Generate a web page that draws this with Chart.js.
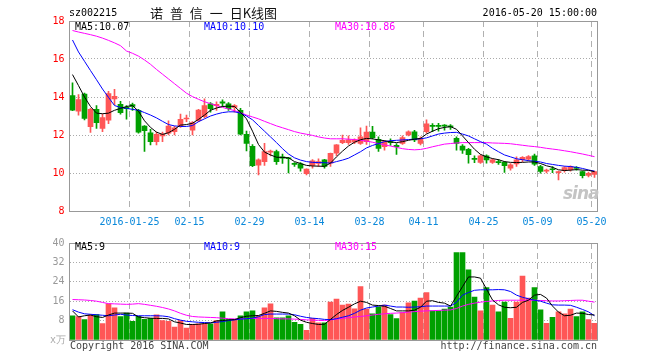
<!DOCTYPE html>
<html>
<head>
<meta charset="utf-8">
<script src="https://cdn.jsdelivr.net/npm/chart.js@4.4.1/dist/chart.umd.min.js"></script>
<style>
  body { margin: 0; background: #fff; }
  #wrap { position: relative; width: 660px; height: 360px; overflow: hidden;
          font-family: "DejaVu Sans Mono", monospace; font-size: 10px; line-height: 12px; }
  #wrap canvas { position: absolute; left: 0; }
  .t { position: absolute; white-space: pre; }
</style>
</head>
<body>
<div id="wrap">
  <canvas id="priceChart" width="660" height="232" style="top:0"></canvas>
  <canvas id="volChart" width="660" height="128" style="top:232px"></canvas>

  <div class="t" style="left:69px;top:7px;color:#000">sz002215</div>
  <div class="t" style="left:150px;top:5px;font-family:'Noto Sans CJK SC';font-size:13px;line-height:15px;word-spacing:4px;color:#111">诺 普 信 一 日K线图</div>
  <div class="t" style="right:63px;top:7px;color:#000">2016-05-20 15:00:00</div>

  <div class="t" style="left:75px;top:21px;color:#000">MA5:10.07</div>
  <div class="t" style="left:204px;top:21px;color:#0000ff">MA10:10.10</div>
  <div class="t" style="left:335px;top:21px;color:#ff00ff">MA30:10.86</div>

  <div class="t" style="left:75px;top:241px;color:#000">MA5:9</div>
  <div class="t" style="left:204px;top:241px;color:#0000ff">MA10:9</div>
  <div class="t" style="left:335px;top:241px;color:#ff00ff">MA30:15</div>

  <div class="t" style="left:50px;top:334px;color:#aaa">x万</div>
  <div class="t" style="left:70px;top:340px;color:#444">Copyright 2016 SINA.COM</div>
  <div class="t" style="right:63px;top:340px;color:#444">http://finance.sina.com.cn</div>
  <div class="t" style="left:563px;top:183px;font-family:'DejaVu Sans';font-size:17px;line-height:20px;font-weight:bold;font-style:italic;color:#c4c4c4;letter-spacing:-1px">sina</div>
</div>

<script>
// 交易日
const dates = [
  '2016-01-11','2016-01-12','2016-01-13','2016-01-14','2016-01-15','2016-01-18','2016-01-19','2016-01-20','2016-01-21','2016-01-22',
  '2016-01-25','2016-01-26','2016-01-27','2016-01-28','2016-01-29','2016-02-01','2016-02-02','2016-02-03','2016-02-04','2016-02-05',
  '2016-02-15','2016-02-16','2016-02-17','2016-02-18','2016-02-19','2016-02-22','2016-02-23','2016-02-24','2016-02-25','2016-02-26',
  '2016-02-29','2016-03-01','2016-03-02','2016-03-03','2016-03-04','2016-03-07','2016-03-08','2016-03-09','2016-03-10','2016-03-11',
  '2016-03-14','2016-03-15','2016-03-16','2016-03-17','2016-03-18','2016-03-21','2016-03-22','2016-03-23','2016-03-24','2016-03-25',
  '2016-03-28','2016-03-29','2016-03-30','2016-03-31','2016-04-01','2016-04-05','2016-04-06','2016-04-07','2016-04-08',
  '2016-04-11','2016-04-12','2016-04-13','2016-04-14','2016-04-15','2016-04-18','2016-04-19','2016-04-20','2016-04-21','2016-04-22',
  '2016-04-25','2016-04-26','2016-04-27','2016-04-28','2016-04-29','2016-05-03','2016-05-04','2016-05-05','2016-05-06',
  '2016-05-09','2016-05-10','2016-05-11','2016-05-12','2016-05-13','2016-05-16','2016-05-17','2016-05-18','2016-05-19','2016-05-20'
];

// K线 開高低收
const opens = [
  14.07,13.25,14.16,12.44,13.35,12.35,12.78,13.90,13.62,13.45,
  13.60,13.30,12.47,12.12,11.65,11.95,12.09,12.17,12.44,12.84,
  12.26,12.75,12.96,13.64,13.55,13.75,13.64,13.45,13.30,12.03,
  11.40,10.41,10.60,11.10,11.13,10.85,10.80,10.50,10.48,9.97,
  10.40,10.50,10.69,10.52,11.04,11.60,11.60,11.62,11.56,11.65,
  12.16,11.77,11.39,11.65,11.45,11.56,12.00,12.17,11.56,
  12.17,12.50,12.50,12.52,12.48,11.82,11.42,11.25,10.76,10.56,
  10.90,10.56,10.60,10.56,10.26,10.48,10.70,10.73,10.90,
  10.34,10.10,10.22,10.02,10.12,10.17,10.28,10.08,9.87,9.92
];
const highs = [
  14.74,14.13,14.20,13.40,13.55,13.10,14.30,14.40,13.77,13.55,
  13.68,13.35,12.50,12.30,12.15,12.15,12.75,12.45,13.10,13.05,
  12.70,13.35,13.90,13.70,13.75,13.85,13.70,13.60,13.40,12.20,
  11.50,10.75,11.56,11.20,11.20,11.00,10.82,10.55,10.55,10.22,
  10.70,10.75,10.72,11.05,11.50,12.00,11.95,11.80,12.38,12.47,
  12.45,11.90,11.70,11.80,11.55,11.95,12.22,12.25,11.90,
  12.80,12.60,12.62,12.55,12.55,11.90,11.50,11.30,10.90,10.95,
  10.95,10.75,10.70,10.60,10.50,10.85,10.86,10.92,11.00,
  10.40,10.20,10.34,10.10,10.34,10.38,10.34,10.10,10.05,10.10
];
const lows = [
  13.28,13.05,12.80,12.14,12.35,12.17,12.60,13.60,13.10,12.83,
  13.30,12.10,11.13,11.48,11.48,11.65,12.00,12.00,12.40,12.70,
  12.00,12.70,12.90,13.20,13.30,13.50,13.30,13.20,12.00,11.16,
  10.33,9.90,10.40,10.90,10.45,10.50,10.00,10.35,10.10,9.90,
  10.25,10.35,10.25,10.35,10.90,11.55,11.50,11.55,11.50,11.50,
  11.80,11.13,11.20,11.45,10.98,11.50,11.95,11.65,11.48,
  12.10,12.17,12.20,12.25,12.30,11.20,11.03,10.52,10.55,10.50,
  10.52,10.50,10.45,10.03,10.15,10.35,10.60,10.65,10.40,
  9.99,10.00,10.02,9.64,10.05,10.10,10.15,9.74,9.80,9.77
];
const closes = [
  13.31,13.86,12.87,13.35,12.65,12.92,14.18,14.04,13.17,13.38,
  13.50,12.15,12.23,11.65,12.03,12.05,12.47,12.38,12.82,12.88,
  12.65,13.31,13.55,13.38,13.62,13.68,13.38,13.55,12.05,11.56,
  10.38,10.69,11.13,11.16,10.60,10.78,10.75,10.45,10.25,10.20,
  10.64,10.60,10.35,11.04,11.48,11.72,11.75,11.74,11.91,12.16,
  11.86,11.30,11.65,11.60,11.38,11.86,12.17,11.74,11.82,
  12.59,12.45,12.45,12.46,12.42,11.56,11.20,10.96,10.72,10.90,
  10.69,10.69,10.55,10.38,10.43,10.69,10.82,10.86,10.46,
  10.08,10.12,10.17,10.05,10.29,10.34,10.24,9.86,9.98,10.07
];

// 均線
const ma5 = [
  15.18,14.60,14.00,13.50,13.15,13.12,13.15,13.30,13.40,13.50,
  13.55,13.25,12.75,12.40,12.15,12.03,12.12,12.30,12.52,12.55,
  12.62,12.82,13.05,13.30,13.42,13.50,13.52,13.50,13.20,12.85,
  12.20,11.50,11.10,10.95,10.83,10.82,10.80,10.60,10.50,10.40,
  10.37,10.36,10.35,10.52,10.85,11.15,11.42,11.62,11.75,11.82,
  11.80,11.74,11.70,11.64,11.60,11.65,11.72,11.78,11.82,
  12.05,12.20,12.33,12.40,12.44,12.30,11.95,11.60,11.25,10.98,
  10.85,10.76,10.70,10.60,10.56,10.55,10.56,10.58,10.58,
  10.50,10.38,10.30,10.17,10.13,10.15,10.18,10.15,10.14,10.07
];
const ma10 = [
  17.00,16.37,15.88,15.39,14.91,14.42,13.98,13.55,13.45,13.40,
  13.35,13.30,13.18,13.05,12.90,12.72,12.55,12.48,12.45,12.45,
  12.50,12.70,12.85,13.00,13.10,13.18,13.22,13.22,13.15,13.00,
  12.80,12.50,12.20,11.90,11.60,11.28,11.00,10.80,10.68,10.60,
  10.56,10.55,10.54,10.52,10.60,10.68,10.78,10.95,11.12,11.32,
  11.45,11.55,11.65,11.70,11.72,11.74,11.76,11.78,11.80,
  11.85,11.95,12.05,12.10,12.13,12.14,12.05,11.95,11.80,11.65,
  11.52,11.30,11.12,10.95,10.85,10.75,10.70,10.65,10.62,
  10.58,10.50,10.45,10.40,10.36,10.34,10.30,10.24,10.16,10.10
];
const ma30 = [
  17.50,17.42,17.35,17.28,17.20,17.10,16.98,16.85,16.70,16.42,
  16.30,16.15,15.95,15.72,15.45,15.20,14.95,14.70,14.45,14.20,
  14.02,13.88,13.75,13.65,13.55,13.45,13.37,13.28,13.18,13.05,
  12.95,12.85,12.72,12.60,12.48,12.38,12.28,12.18,12.10,12.04,
  11.98,11.90,11.84,11.80,11.80,11.80,11.78,11.76,11.72,11.68,
  11.62,11.55,11.48,11.42,11.35,11.28,11.24,11.22,11.24,
  11.30,11.38,11.45,11.52,11.55,11.58,11.60,11.60,11.60,11.60,
  11.60,11.58,11.57,11.56,11.54,11.50,11.46,11.42,11.39,
  11.35,11.30,11.26,11.22,11.17,11.12,11.06,11.00,10.93,10.86
];

// 成交量 (萬手)
const volumes = [
  10.0,9.7,8.4,10.3,10.5,6.8,14.9,13.3,9.7,11.1,
  7.7,9.8,8.5,8.9,10.4,8.0,7.7,5.3,8.0,4.9,
  6.5,6.7,6.7,6.7,8.0,11.6,8.4,8.4,10.0,11.6,
  12.0,10.0,13.3,14.9,9.1,9.1,10.0,7.3,6.5,4.0,
  8.9,7.1,7.1,15.6,16.9,14.4,14.8,12.9,22.0,12.7,
  10.8,13.7,14.4,10.5,8.8,11.3,15.3,16.0,17.3,
  19.6,12.0,12.0,12.7,13.6,36.0,36.0,28.9,17.7,12.0,
  21.6,14.4,11.6,15.6,8.9,15.6,26.4,17.3,21.6,
  12.4,6.9,9.3,11.6,10.8,12.8,9.7,11.6,8.4,6.9
];
const volMa5 = [
  12.0,9.5,10.0,10.3,9.6,9.3,10.3,11.1,11.1,11.1,
  11.0,9.5,9.2,9.0,8.9,8.9,8.7,7.5,7.0,6.4,
  6.4,6.5,6.8,7.0,7.9,8.0,8.3,8.4,9.2,9.8,
  10.0,10.1,11.0,12.0,11.8,11.4,11.1,10.0,8.2,7.3,
  6.8,6.4,6.5,8.5,10.5,12.2,13.5,14.9,16.0,15.5,
  14.4,14.2,13.9,13.0,12.0,12.0,12.0,12.3,13.5,
  16.0,16.2,15.5,15.2,14.0,18.0,22.0,26.0,26.0,25.5,
  21.0,16.5,14.5,13.5,13.3,13.5,15.5,16.4,18.5,
  18.8,17.3,14.0,11.5,10.0,10.2,11.1,11.0,10.5,10.3
];
const volMa10 = [
  12.5,11.5,10.8,10.6,10.4,10.2,10.0,10.3,10.6,10.3,
  10.1,10.0,10.0,10.0,10.0,9.9,9.6,8.8,8.2,7.7,
  7.5,7.3,7.2,7.1,7.3,7.6,8.0,8.3,8.6,8.8,
  9.0,9.6,10.5,10.7,10.7,10.7,10.7,10.4,9.8,9.3,
  9.0,8.8,8.5,8.4,8.8,9.4,10.0,11.0,12.3,13.2,
  13.6,14.0,14.4,14.0,13.6,13.6,13.5,13.6,13.7,
  14.0,14.0,14.0,14.0,14.0,15.5,18.5,19.6,20.5,20.7,
  20.7,20.7,20.8,20.7,20.0,18.5,17.6,17.0,16.4,
  16.0,15.2,14.5,14.4,14.4,14.3,13.5,12.6,11.6,10.0
];
const volMa30 = [
  16.7,16.6,16.5,16.3,16.0,15.5,15.0,14.9,14.8,14.7,
  14.8,15.0,14.7,14.3,13.9,13.4,12.8,12.0,11.0,10.2,
  9.7,9.5,9.4,9.3,9.2,9.0,8.8,8.7,8.7,8.8,
  8.9,8.9,8.9,8.9,8.8,8.7,8.7,8.6,8.5,8.3,
  8.2,8.1,8.0,8.3,8.6,8.9,9.2,9.5,9.7,10.0,
  10.3,10.6,10.8,11.0,11.1,11.3,11.5,11.7,11.9,
  12.0,12.1,12.2,12.3,12.4,13.0,14.0,14.7,15.2,15.6,
  15.9,16.1,16.3,16.4,16.4,16.4,16.4,16.4,16.4,
  16.3,16.2,16.1,16.1,16.2,16.3,16.4,16.4,16.0,15.6
];

// 座標軸刻度
const tickDates = ['2016-01-25','2016-02-15','2016-02-29','2016-03-14','2016-03-28','2016-04-11','2016-04-25','2016-05-09','2016-05-20'];
const tickLabels = ['2016-01-25','02-15','02-29','03-14','03-28','04-11','04-25','05-09','05-20'];
const priceTicks = [8, 10, 12, 14, 16, 18];
const volTicks = [0, 8, 16, 24, 32, 40];

const upColor = '#ff5656';
const downColor = '#00a000';
const monoFont = { family: 'DejaVu Sans Mono', size: 10 };

const tickIdx = tickDates.map(d => dates.indexOf(d));
const barColor = closes.map((c, i) => c >= opens[i] ? upColor : downColor);
const pt = arr => arr.map((v, i) => ({ x: i + 0.5, y: v }));

const frame = {
    id: 'frame',
    afterDraw(chart) {
        const { ctx, chartArea: a } = chart;
        const l = Math.floor(a.left) + 0.5, t = Math.floor(a.top) + 0.5;
        const r = Math.floor(a.right) + 0.5, b = Math.floor(a.bottom) + 0.5;
        ctx.save();
        ctx.strokeStyle = '#999';
        ctx.lineWidth = 1;
        ctx.strokeRect(l, t, r - l, b - t);
        ctx.restore();
    }
};

function lineSet(label, data, color) {
    return { type: 'line', label: label, data: pt(data), borderColor: color, borderWidth: 1,
             pointRadius: 0, tension: 0, order: 0 };
}

function xScale(showLabels, height) {
    return {
        type: 'linear', min: 0, max: dates.length, offset: false,
        afterBuildTicks: (s) => { s.ticks = tickIdx.map(v => ({ value: v })); },
        afterFit: (s) => { s.height = height; },
        grid: { color: '#b0b0b0', drawTicks: false, offset: false },
        border: { display: false, dash: [6, 4] },
        ticks: {
            display: showLabels, autoSkip: false, maxRotation: 0, minRotation: 0, padding: 5,
            color: '#0a88da', font: monoFont,
            callback: (v) => tickLabels[tickIdx.indexOf(v)]
        }
    };
}

function yScale(min, max, ticksArr, color, hideZero) {
    return {
        min: min, max: max,
        afterBuildTicks: (s) => { s.ticks = ticksArr.map(v => ({ value: v })); },
        afterFit: (s) => { s.width = 69.5; },
        grid: { color: '#aaa', drawTicks: false },
        border: { display: false, dash: [1, 2] },
        ticks: {
            padding: 5, color: color, font: monoFont,
            callback: (v) => (hideZero && v === 0) ? '' : String(v)
        }
    };
}

// 價格 K線圖
new Chart(document.getElementById('priceChart'), {
    type: 'bar',
    data: {
        datasets: [
            lineSet('MA5', ma5, '#000000'),
            lineSet('MA10', ma10, '#0000ff'),
            lineSet('MA30', ma30, '#ff00ff'),
            {
                label: 'body',
                data: opens.map((o, i) => ({ x: i + 0.5, y: [o, closes[i]] })),
                backgroundColor: barColor, barThickness: 5, minBarLength: 1,
                grouped: false, order: 2
            },
            {
                label: 'wick',
                data: lows.map((l, i) => ({ x: i + 0.5, y: [l, highs[i]] })),
                backgroundColor: barColor, barThickness: 1,
                grouped: false, order: 3
            }
        ]
    },
    options: {
        responsive: false,
        animation: false,
        devicePixelRatio: 1,
        layout: { padding: { top: 21, right: 62.5, bottom: 0, left: 0 } },
        scales: {
            x: xScale(true, 21),
            y: yScale(8, 18, priceTicks, '#ff0000', false)
        },
        plugins: { legend: { display: false }, tooltip: { enabled: false } }
    },
    plugins: [frame]
});

// 成交量
new Chart(document.getElementById('volChart'), {
    type: 'bar',
    data: {
        datasets: [
            lineSet('MA5', volMa5, '#000000'),
            lineSet('MA10', volMa10, '#0000ff'),
            lineSet('MA30', volMa30, '#ff00ff'),
            {
                label: 'volume',
                data: volumes.map((v, i) => ({ x: i + 0.5, y: v })),
                backgroundColor: barColor, barThickness: 5,
                grouped: false, order: 2
            }
        ]
    },
    options: {
        responsive: false,
        animation: false,
        devicePixelRatio: 1,
        layout: { padding: { top: 8, right: 62.5, bottom: 20, left: 0 } },
        scales: {
            x: xScale(false, 0),
            y: yScale(0, 40, volTicks, '#999', true)
        },
        plugins: { legend: { display: false }, tooltip: { enabled: false } }
    },
    plugins: [frame]
});
</script>
</body>
</html>
